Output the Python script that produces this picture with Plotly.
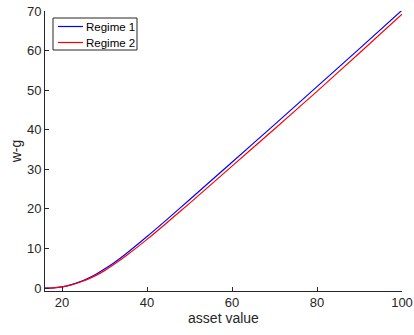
import plotly.graph_objects as go

asset = [16, 18, 20, 22, 24, 26, 28, 30, 32, 35, 40, 45, 50, 60, 70, 80, 90, 100]
regime1 = [0.0, 0.05, 0.3, 0.8, 1.5, 2.4, 3.5, 4.8, 6.2, 8.6, 13.0, 17.6, 22.3, 31.8, 41.3, 50.9, 60.5, 70.2]
regime2 = [0.0, 0.05, 0.3, 0.75, 1.4, 2.2, 3.2, 4.4, 5.8, 8.1, 12.3, 16.8, 21.4, 30.8, 40.2, 49.7, 59.4, 69.2]
series_names = ["Regime 1", "Regime 2"]
series_colors = ["#0000FF", "#FF0000"]
x_ticks = [20, 40, 60, 80, 100]
y_ticks = [0, 10, 20, 30, 40, 50, 60, 70]

W, H = 414, 335
ML, MR, MT, MB = 45, 12, 11, 44
PW, PH = W - ML - MR, H - MT - MB

def px_x(px):
    return (px - ML) / PW

def px_y(py):
    return (H - MB - py) / PH

fig = go.Figure()
for name, ys, col in zip(series_names, [regime1, regime2], series_colors):
    fig.add_trace(go.Scatter(x=asset, y=ys, mode="lines", name=name, showlegend=False,
                             line=dict(color=col, width=1.2, shape="spline", smoothing=0.8)))

font_family = "Liberation Sans, Arial"
axis_common = dict(showline=True, linecolor="#262626", linewidth=1, ticks="inside",
                   ticklen=4, tickcolor="#262626", showgrid=False, zeroline=False,
                   tickfont=dict(family=font_family, size=13, color="#262626"),
                   mirror=False, automargin=False, ticklabeloverflow="allow")

# manual compact legend box (MATLAB style)
shapes = [dict(type="rect", xref="paper", yref="paper",
               x0=px_x(53), x1=px_x(137), y0=px_y(50), y1=px_y(18),
               line=dict(color="#262626", width=1), fillcolor="white", layer="above")]
annotations = []
for i, (name, col) in enumerate(zip(series_names, series_colors)):
    yy = 26.5 + 16 * i
    shapes.append(dict(type="line", xref="paper", yref="paper",
                       x0=px_x(58), x1=px_x(83), y0=px_y(yy), y1=px_y(yy),
                       line=dict(color=col, width=1.2), layer="above"))
    annotations.append(dict(xref="paper", yref="paper", x=px_x(84), y=px_y(yy),
                            text=name, showarrow=False, xanchor="left", yanchor="middle",
                            font=dict(family=font_family, size=11.5, color="black")))

fig.update_layout(
    width=W, height=H,
    margin=dict(l=ML, r=MR, t=MT, b=MB),
    plot_bgcolor="white", paper_bgcolor="white",
    xaxis=dict(range=[16, 100], tickvals=x_ticks, ticklabelstandoff=-1,
               title=dict(text="asset value", standoff=0,
                          font=dict(family=font_family, size=14, color="#262626")),
               **axis_common),
    yaxis=dict(range=[-0.75, 70], tickvals=y_ticks, ticklabelstandoff=0,
               title=dict(text="w-g", standoff=2,
                          font=dict(family=font_family, size=14, color="#262626")),
               **axis_common),
    shapes=shapes,
    annotations=annotations,
    showlegend=False,
)

fig.write_html("out.html", config={"displayModeBar": False},
               post_script="document.body.style.margin='0';")
